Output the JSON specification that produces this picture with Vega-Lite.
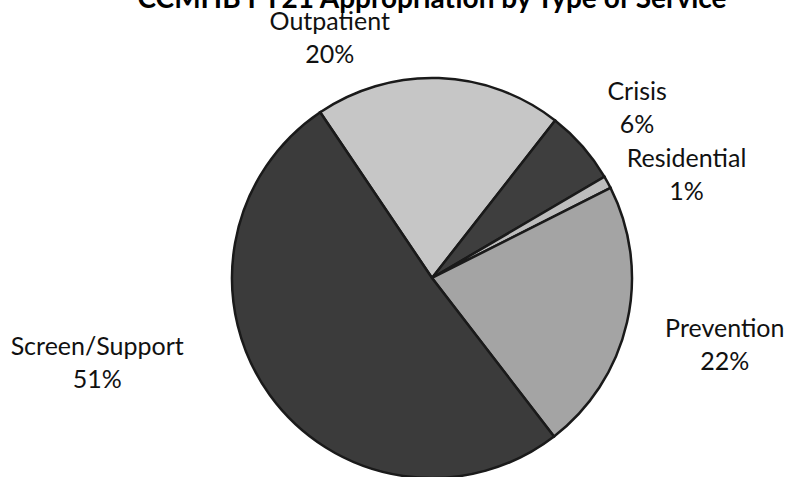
{
  "$schema": "https://vega.github.io/schema/vega-lite/v6.json",
  "width": 400,
  "height": 398,
  "autosize": {"type": "none"},
  "padding": {"left": 232, "top": 79, "right": 154, "bottom": 0},
  "background": "white",
  "title": {
    "text": "CCMHB FY21 Appropriation by Type of Service",
    "font": "Lato",
    "fontSize": 28,
    "fontWeight": "bold",
    "color": "#000000",
    "anchor": "middle",
    "frame": "group",
    "baseline": "alphabetic",
    "offset": -97
  },
  "data": {
    "values": [
      {"category": "Outpatient", "share": 20},
      {"category": "Crisis", "share": 6},
      {"category": "Residential", "share": 1},
      {"category": "Prevention", "share": 22},
      {"category": "Screen/Support", "share": 51}
    ]
  },
  "transform": [
    {"window": [{"op": "row_number", "as": "rank"}]},
    {"calculate": "datum.category + '\\n' + datum.share + '%'", "as": "label"}
  ],
  "encoding": {
    "theta": {"field": "share", "type": "quantitative", "stack": true, "scale": {"range": [-0.5934, 5.6898]}},
    "order": {"field": "rank", "type": "quantitative"}
  },
  "layer": [
    {
      "mark": {"type": "arc", "outerRadius": 200, "stroke": "#1a1a1a", "strokeWidth": 2.5},
      "encoding": {
        "color": {
          "field": "category",
          "type": "nominal",
          "scale": {
            "domain": ["Outpatient", "Crisis", "Residential", "Prevention", "Screen/Support"],
            "range": ["#c6c6c6", "#3e3e3e", "#bdbdbd", "#a4a4a4", "#3b3b3b"]
          },
          "legend": null
        }
      }
    },
    {
      "mark": {"type": "text", "radius": 250, "dx": -111, "dy": -6, "font": "Lato", "fontSize": 25, "lineHeight": 33, "lineBreak": "\n", "align": "center", "baseline": "middle", "color": "#111111"},
      "encoding": {"text": {"condition": {"test": "datum.category === 'Outpatient'", "field": "label", "type": "nominal"}, "value": ""}}
    },
    {
      "mark": {"type": "text", "radius": 250, "dx": 17, "dy": -21, "font": "Lato", "fontSize": 25, "lineHeight": 33, "lineBreak": "\n", "align": "center", "baseline": "middle", "color": "#111111"},
      "encoding": {"text": {"condition": {"test": "datum.category === 'Crisis'", "field": "label", "type": "nominal"}, "value": ""}}
    },
    {
      "mark": {"type": "text", "radius": 250, "dx": 35, "dy": 1, "font": "Lato", "fontSize": 25, "lineHeight": 33, "lineBreak": "\n", "align": "center", "baseline": "middle", "color": "#111111"},
      "encoding": {"text": {"condition": {"test": "datum.category === 'Residential'", "field": "label", "type": "nominal"}, "value": ""}}
    },
    {
      "mark": {"type": "text", "radius": 250, "dx": 49, "dy": -4, "font": "Lato", "fontSize": 25, "lineHeight": 33, "lineBreak": "\n", "align": "center", "baseline": "middle", "color": "#111111"},
      "encoding": {"text": {"condition": {"test": "datum.category === 'Prevention'", "field": "label", "type": "nominal"}, "value": ""}}
    },
    {
      "mark": {"type": "text", "radius": 250, "dx": -132, "dy": -77, "font": "Lato", "fontSize": 25, "lineHeight": 33, "lineBreak": "\n", "align": "center", "baseline": "middle", "color": "#111111"},
      "encoding": {"text": {"condition": {"test": "datum.category === 'Screen/Support'", "field": "label", "type": "nominal"}, "value": ""}}
    }
  ]
}
